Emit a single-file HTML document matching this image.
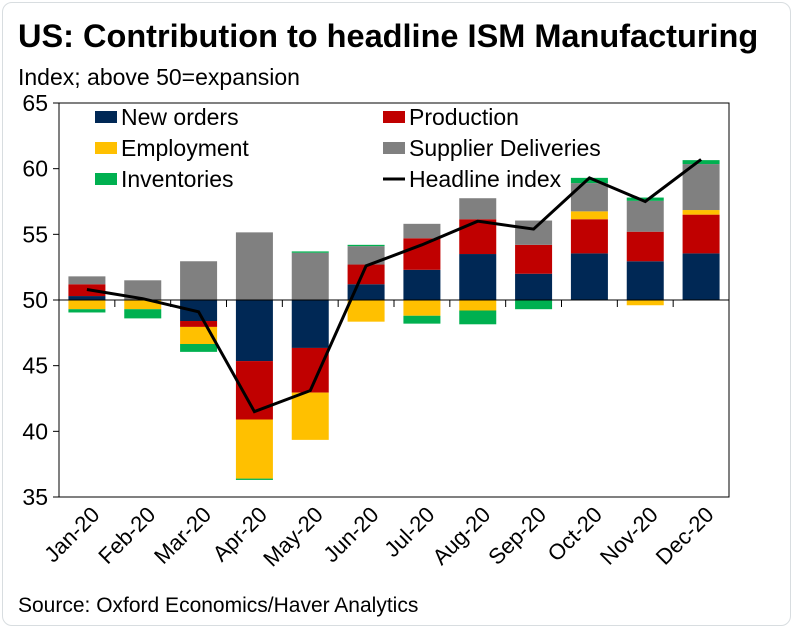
<!DOCTYPE html>
<html><head><meta charset="utf-8"><style>
body{margin:0;background:#fff;font-family:"Liberation Sans",Arial,sans-serif;}
#wrap{position:relative;width:795px;height:630px;}
.frame{position:absolute;left:2px;top:2px;width:787px;height:622px;border:1px solid #d8dde0;border-radius:10px;}
.title{position:absolute;left:18px;top:18px;font-size:32.5px;font-weight:bold;color:#000;white-space:nowrap;}
.sub{position:absolute;left:18px;top:64px;font-size:23px;color:#000;white-space:nowrap;}
.src{position:absolute;left:18px;top:594px;font-size:21px;color:#000;white-space:nowrap;}
svg text{font-family:"Liberation Sans",Arial,sans-serif;}
</style></head><body>
<div id="wrap">
<div class="frame"></div>
<div class="title">US: Contribution to headline ISM Manufacturing</div>
<div class="sub">Index; above 50=expansion</div>
<div class="src">Source: Oxford Economics/Haver Analytics</div>
<svg id="chart" width="795" height="630" style="position:absolute;left:0;top:0"></svg>
</div>
<script>
const months=["Jan-20","Feb-20","Mar-20","Apr-20","May-20","Jun-20","Jul-20","Aug-20","Sep-20","Oct-20","Nov-20","Dec-20"];
const newOrders=[0.3,0,-1.6,-4.65,-3.65,1.2,2.3,3.5,2.0,3.55,2.95,3.55];
const production=[0.9,0,-0.45,-4.45,-3.4,1.5,2.4,2.65,2.2,2.6,2.25,2.95];
const employment=[-0.7,-0.7,-1.3,-4.5,-3.6,-1.65,-1.2,-0.8,0,0.6,-0.4,0.35];
const supplier=[0.6,1.5,2.95,5.15,3.6,1.4,1.1,1.6,1.85,2.15,2.35,3.5];
const inventories=[-0.25,-0.7,-0.6,-0.1,0.1,0.1,-0.6,-1.05,-0.7,0.4,0.25,0.3];
const headline=[50.8,50.1,49.1,41.5,43.1,52.6,54.2,56.0,55.4,59.3,57.5,60.7];
const yTicks=[35,40,45,50,55,60,65];
const series=[["new-orders",newOrders,"#002855"],["production",production,"#c00000"],["employment",employment,"#ffc000"],["supplier-deliveries",supplier,"#808080"],["inventories",inventories,"#00b050"]];
const L=59,R=729,T=103,B=497,yMin=35,yMax=65;
const bw=(R-L)/months.length;
const y=v=>B-(v-yMin)/(yMax-yMin)*(B-T);
const xc=i=>L+bw*(i+0.5);
const svg=document.getElementById('chart');
const NS="http://www.w3.org/2000/svg";
function mk(t,a){const e=document.createElementNS(NS,t);for(const k in a)e.setAttribute(k,a[k]);svg.appendChild(e);return e;}
let f=mk('rect',{x:L,y:T,width:R-L,height:B-T,fill:'none',stroke:'#000','stroke-width':1});


yTicks.forEach(v=>{
 const l=mk('line',{x1:L-6,x2:L,y1:y(v),y2:y(v),stroke:'#000'});
 
 
 const t=mk('text',{x:L-11,y:y(v)+8,'text-anchor':'end','font-size':23});
 t.textContent=v;
 
 
});
months.forEach((m,i)=>{
 let pos=50,neg=50;
 series.forEach(([nm,arr,col])=>{
  const v=arr[i]; if(!v) return;
  let y0,y1;
  if(v>0){y0=pos;y1=pos+v;pos=y1;}else{y0=neg;y1=neg+v;neg=y1;}
  const r=mk('rect',{x:xc(i)-18.5,width:37,y:Math.min(y(y0),y(y1)),height:Math.abs(y(y0)-y(y1)),fill:col});
  
  
 });
});
let z=mk('line',{x1:L,x2:R,y1:y(50),y2:y(50),stroke:'#000'});


months.forEach((m,i)=>{
 if(i>0){const tk=mk('line',{x1:L+bw*i,x2:L+bw*i,y1:y(50),y2:y(50)+7,stroke:'#000'});
 
 }
 const ax=xc(i)+14, ay=516;
 const t=mk('text',{x:ax,y:ay,'text-anchor':'end','font-size':22,transform:`rotate(-45 ${ax} ${ay})`});
 t.textContent=m;
 
 
});
let p=mk('polyline',{points:headline.map((v,i)=>xc(i)+','+y(v)).join(' '),fill:'none',stroke:'#000','stroke-width':3});


const leg=[["New orders","#002855",95,117],["Production","#c00000",383,117],["Employment","#ffc000",95,148],["Supplier Deliveries","#808080",383,148],["Inventories","#00b050",95,179],["Headline index","line",383,179]];
leg.forEach(([lab,col,lx,ly])=>{
 if(col==='line'){const l=mk('line',{x1:lx,x2:lx+22,y1:ly,y2:ly,stroke:'#000','stroke-width':3});
  
  }
 else{const r=mk('rect',{x:lx,y:ly-6,width:22,height:12,fill:col});
  
  }
 const t=mk('text',{x:lx+26,y:ly+8,'font-size':23});
 t.textContent=lab;
 
 
});
</script>
</body></html>
